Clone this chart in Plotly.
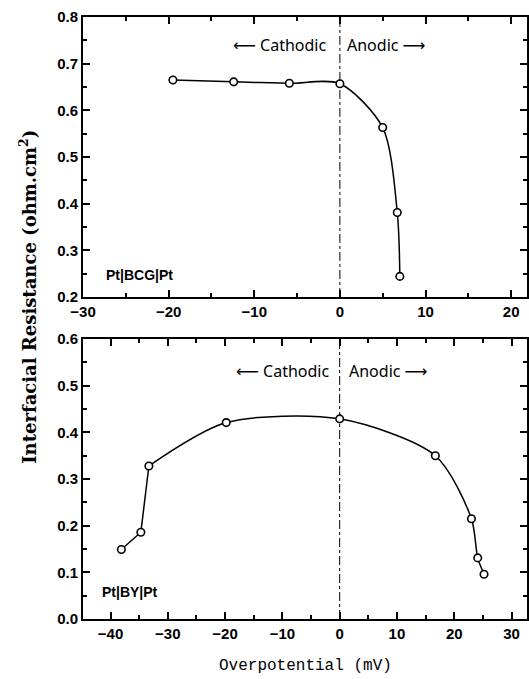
import plotly.graph_objects as go
from plotly.subplots import make_subplots

# Top panel: Pt|BCG|Pt
bcg_x = [-19.5, -12.4, -5.9, 0.0, 5.0, 6.7, 7.0]
bcg_y = [0.665, 0.661, 0.658, 0.657, 0.563, 0.381, 0.244]

# Bottom panel: Pt|BY|Pt
by_x = [-38.1, -34.7, -33.3, -19.8, 0.0, 16.7, 23.0, 24.1, 25.2]
by_y = [0.149, 0.186, 0.328, 0.421, 0.429, 0.350, 0.215, 0.131, 0.096]

top_yticks = [0.2, 0.3, 0.4, 0.5, 0.6, 0.7, 0.8]
bot_yticks = [0.0, 0.1, 0.2, 0.3, 0.4, 0.5, 0.6]
top_xticks = [-30, -20, -10, 0, 10, 20]
bot_xticks = [-40, -30, -20, -10, 0, 10, 20, 30]


def bold_num(v, fmt):
    s = format(v, fmt).replace("-", "\u2212")
    return "<b>" + s + "</b>"


fig = make_subplots(rows=2, cols=1, vertical_spacing=0.0698)

marker = dict(symbol="circle", size=7.5, color="white", line=dict(color="black", width=1.6))
spline = dict(color="black", width=1.5, shape="spline", smoothing=0.8)
straight = dict(color="black", width=1.5)

# vertical dash-dot lines at 0
fig.add_trace(go.Scatter(x=[0, 0], y=[0.2, 0.8], mode="lines",
                         line=dict(color="black", width=1, dash="dashdot"), showlegend=False,
                         hoverinfo="skip"), row=1, col=1)
fig.add_trace(go.Scatter(x=[0, 0], y=[0.0, 0.6], mode="lines",
                         line=dict(color="black", width=1, dash="dashdot"), showlegend=False,
                         hoverinfo="skip"), row=2, col=1)

# top curve
fig.add_trace(go.Scatter(x=bcg_x, y=bcg_y, mode="lines", line=spline, showlegend=False),
              row=1, col=1)
fig.add_trace(go.Scatter(x=bcg_x, y=bcg_y, mode="markers", marker=marker, showlegend=False),
              row=1, col=1)
# bottom curve: straight low-end segments, smooth curve afterwards
fig.add_trace(go.Scatter(x=by_x[:3], y=by_y[:3], mode="lines", line=straight, showlegend=False),
              row=2, col=1)
fig.add_trace(go.Scatter(x=by_x[2:], y=by_y[2:], mode="lines", line=spline, showlegend=False),
              row=2, col=1)
fig.add_trace(go.Scatter(x=by_x, y=by_y, mode="markers", marker=marker, showlegend=False),
              row=2, col=1)

tickfont = dict(family="Liberation Sans, Arial", size=15, color="black")
axis_common = dict(showline=True, linecolor="black", linewidth=2, mirror="ticks",
                   ticks="inside", ticklen=7, tickwidth=1.5, tickcolor="black",
                   showgrid=False, zeroline=False, tickfont=tickfont)

fig.update_xaxes(**axis_common)
fig.update_yaxes(**axis_common)

minor_x = dict(dtick=5, tick0=0, ticks="inside", ticklen=4, tickcolor="black", tickwidth=1.5)
minor_y = dict(dtick=0.05, tick0=0, ticks="inside", ticklen=4, tickcolor="black", tickwidth=1.5)

fig.update_xaxes(range=[-30, 21.85], tickvals=top_xticks,
                 ticktext=[bold_num(v, "d") for v in top_xticks], minor=minor_x, row=1, col=1)
fig.update_xaxes(range=[-44.8, 32.7], tickvals=bot_xticks,
                 ticktext=[bold_num(v, "d") for v in bot_xticks], minor=minor_x, row=2, col=1)
fig.update_yaxes(range=[0.2, 0.8], tickvals=top_yticks,
                 ticktext=[bold_num(v, ".1f") for v in top_yticks], minor=minor_y, row=1, col=1)
fig.update_yaxes(range=[0.0, 0.6], tickvals=bot_yticks,
                 ticktext=[bold_num(v, ".1f") for v in bot_yticks], minor=minor_y, row=2, col=1)

fig.update_layout(
    width=529, height=679,
    margin=dict(l=83, r=0, t=17, b=60),
    paper_bgcolor="white", plot_bgcolor="white",
    yaxis=dict(domain=[0.535, 1.0]),
    yaxis2=dict(domain=[0.0, 0.465]),
)

annot_font = dict(family="Noto Sans, DejaVu Sans", size=16, color="black")
label_font = dict(family="Liberation Sans, Arial", size=14, color="black")

fig.add_annotation(x=-1.4, y=0.74, xref="x", yref="y", text="⟵ Cathodic", showarrow=False,
                   xanchor="right", font=annot_font)
fig.add_annotation(x=0.6, y=0.74, xref="x", yref="y", text="Anodic ⟶", showarrow=False,
                   xanchor="left", font=annot_font)
fig.add_annotation(x=-1.5, y=0.531, xref="x2", yref="y2", text="⟵ Cathodic", showarrow=False,
                   xanchor="right", font=annot_font)
fig.add_annotation(x=1.2, y=0.531, xref="x2", yref="y2", text="Anodic ⟶", showarrow=False,
                   xanchor="left", font=annot_font)

fig.add_annotation(x=-27.6, y=0.247, xref="x", yref="y", text="<b>Pt|BCG|Pt</b>", showarrow=False,
                   xanchor="left", font=label_font)
fig.add_annotation(x=-41.8, y=0.058, xref="x2", yref="y2", text="<b>Pt|BY|Pt</b>", showarrow=False,
                   xanchor="left", font=label_font)

# axis titles
fig.add_annotation(x=-0.124, y=0.535, xref="paper", yref="paper",
                   text="<b>Interfacial Resistance (ohm.cm<sup>2</sup>)</b>", textangle=-90,
                   showarrow=False, xanchor="center", yanchor="middle",
                   font=dict(family="DejaVu Serif, serif", size=18, color="black"))
fig.add_annotation(x=0.5, y=-0.078, xref="paper", yref="paper",
                   text="Overpotential (mV)", showarrow=False, xanchor="center", yanchor="middle",
                   font=dict(family="Liberation Mono, DejaVu Sans Mono", size=16, color="black"))

fig.write_html("out.html")
